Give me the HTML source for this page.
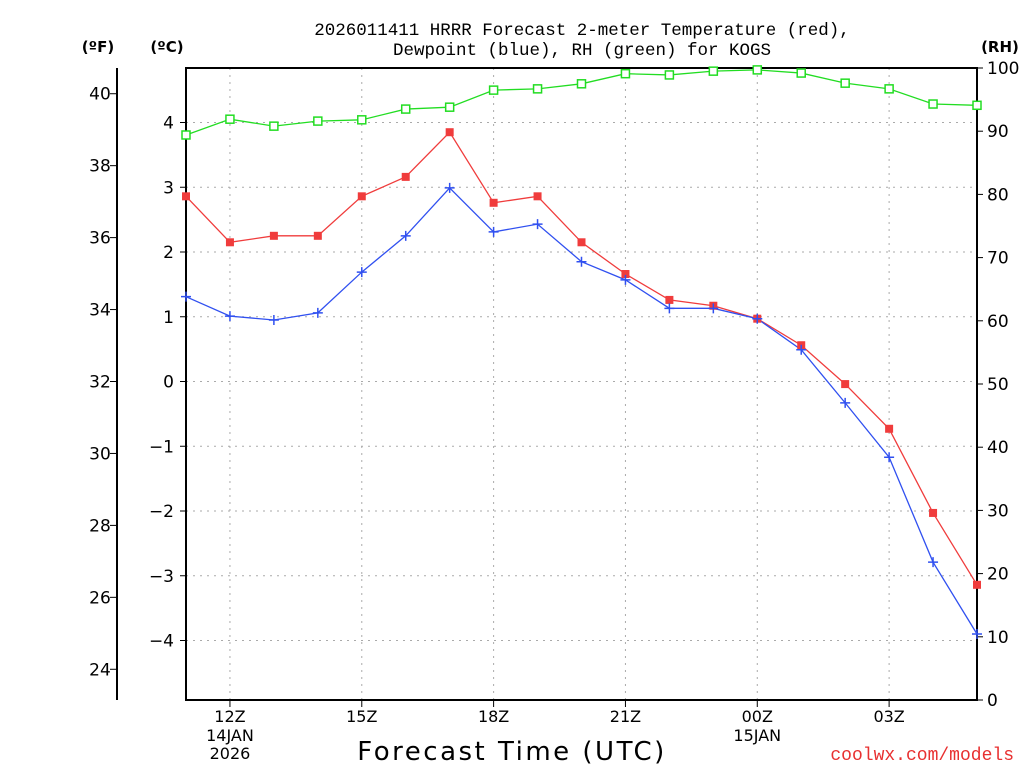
<!DOCTYPE html>
<html><head><meta charset="utf-8"><style>
body{margin:0;background:#fff;}
svg text{font-family:"DejaVu Sans","Liberation Sans",sans-serif;}
svg text.mono{font-family:"Liberation Mono","DejaVu Sans Mono",monospace;}
</style></head><body>
<svg id="c" width="1024" height="768" viewBox="0 0 1024 768" xmlns="http://www.w3.org/2000/svg">
<g id="grid"></g>
<g id="axes"></g>
<g id="series"></g>
<text class="mono" x="582" y="35" text-anchor="middle" font-size="17.5">2026011411 HRRR Forecast 2-meter Temperature (red),</text>
<text class="mono" x="582" y="55" text-anchor="middle" font-size="17.5">Dewpoint (blue), RH (green) for KOGS</text>
<text x="98" y="52" text-anchor="middle" font-size="15" font-weight="bold">(ºF)</text>
<text x="167" y="52" text-anchor="middle" font-size="15" font-weight="bold">(ºC)</text>
<text x="1000" y="52" text-anchor="middle" font-size="15" font-weight="bold">(RH)</text>
<text x="512" y="760" text-anchor="middle" font-size="26" letter-spacing="2.5">Forecast Time (UTC)</text>
<text class="mono" x="1014" y="760" text-anchor="end" font-size="18" fill="#e83030">coolwx.com/models</text>
</svg>
<script>
const hours=[11,12,13,14,15,16,17,18,19,20,21,22,23,24,25,26,27,28,29];
const tempC=[2.86,2.15,2.25,2.25,2.86,3.16,3.85,2.76,2.86,2.15,1.66,1.26,1.17,0.97,0.56,-0.04,-0.73,-2.03,-3.14];
const dewC=[1.31,1.01,0.95,1.06,1.69,2.25,2.99,2.31,2.43,1.85,1.57,1.13,1.13,0.97,0.49,-0.33,-1.17,-2.79,-3.90];
const rh=[89.4,91.9,90.8,91.6,91.8,93.5,93.8,96.5,96.7,97.5,99.1,98.9,99.5,99.7,99.2,97.6,96.7,94.3,94.1];
const xTicks=[12,15,18,21,24,27];
const xTickLabels=["12Z","15Z","18Z","21Z","00Z","03Z"];
const cTicks=[4,3,2,1,0,-1,-2,-3,-4];
const fTicks=[40,38,36,34,32,30,28,26,24];
const rhTicks=[0,10,20,30,40,50,60,70,80,90,100];
const L=186,R=977,T=68,B=700;
const NS="http://www.w3.org/2000/svg";
const xs=h=>L+(h-11)*(R-L)/18;
const yc=c=>381.5-c*64.75;
const yf=f=>yc((f-32)*5/9);
const yr=r=>B-r*(B-T)/100;
function mk(tag,attrs,parent,text){const e=document.createElementNS(NS,tag);for(const k in attrs)e.setAttribute(k,attrs[k]);if(text!==undefined)e.textContent=text;document.getElementById(parent).appendChild(e);return e;}
xTicks.forEach(h=>{const e=mk('line',{x1:xs(h),x2:xs(h),y1:T,y2:B,stroke:'#aaa','stroke-dasharray':'2,5'},'grid');

});
cTicks.forEach(c=>{const e=mk('line',{x1:L,x2:R,y1:yc(c),y2:yc(c),stroke:'#aaa','stroke-dasharray':'2,5'},'grid');

});
mk('rect',{x:L,y:T,width:R-L,height:B-T,fill:'none',stroke:'#000','stroke-width':2},'axes');
mk('line',{x1:117,x2:117,y1:T,y2:B,stroke:'#000','stroke-width':2},'axes');
xTicks.forEach((h,i)=>{mk('line',{x1:xs(h),x2:xs(h),y1:B,y2:B+7,stroke:'#000'},'axes');
const t=mk('text',{x:xs(h),y:B+22,'text-anchor':'middle','font-size':16},'axes',xTickLabels[i]);

});
mk('text',{x:xs(12),y:B+41,'text-anchor':'middle','font-size':16},'axes','14JAN');
mk('text',{x:xs(12),y:B+59,'text-anchor':'middle','font-size':16},'axes','2026');
mk('text',{x:xs(24),y:B+41,'text-anchor':'middle','font-size':16},'axes','15JAN');
cTicks.forEach(c=>{mk('line',{x1:L-6,x2:L,y1:yc(c),y2:yc(c),stroke:'#000'},'axes');
const t=mk('text',{x:L-12,y:yc(c)+6,'text-anchor':'end','font-size':17},'axes',c<0?'\u2212'+(-c):String(c));

});
fTicks.forEach(f=>{mk('line',{x1:110,x2:117,y1:yf(f),y2:yf(f),stroke:'#000'},'axes');
const t=mk('text',{x:100,y:yf(f)+6,'text-anchor':'middle','font-size':17},'axes',String(f));

});
rhTicks.forEach(r=>{mk('line',{x1:R,x2:R+6,y1:yr(r),y2:yr(r),stroke:'#000'},'axes');
const t=mk('text',{x:R+10,y:yr(r)+6,'font-size':17},'axes',String(r));

});
function line(vals,yfn,color,name){const pts=vals.map((v,i)=>xs(hours[i])+','+yfn(v)).join(' ');
const p=mk('polyline',{points:pts,fill:'none',stroke:color,'stroke-width':1.3},'series');

}
line(rh,yr,'#22dd22','rh-line');
line(tempC,yc,'#f03c3c','temperature-line');
line(dewC,yc,'#3050f0','dewpoint-line');
rh.forEach((v,i)=>{const m=mk('rect',{x:xs(hours[i])-4,y:yr(v)-4,width:8,height:8,fill:'#fff',stroke:'#22dd22','stroke-width':1.5},'series');

});
tempC.forEach((v,i)=>{const m=mk('rect',{x:xs(hours[i])-4,y:yc(v)-4,width:8,height:8,fill:'#f03c3c'},'series');

});
dewC.forEach((v,i)=>{const x=xs(hours[i]),y=yc(v);const m=mk('path',{d:`M${x-5},${y}H${x+5}M${x},${y-5}V${y+5}`,stroke:'#3050f0','stroke-width':1.5},'series');

});
</script>
</body></html>
